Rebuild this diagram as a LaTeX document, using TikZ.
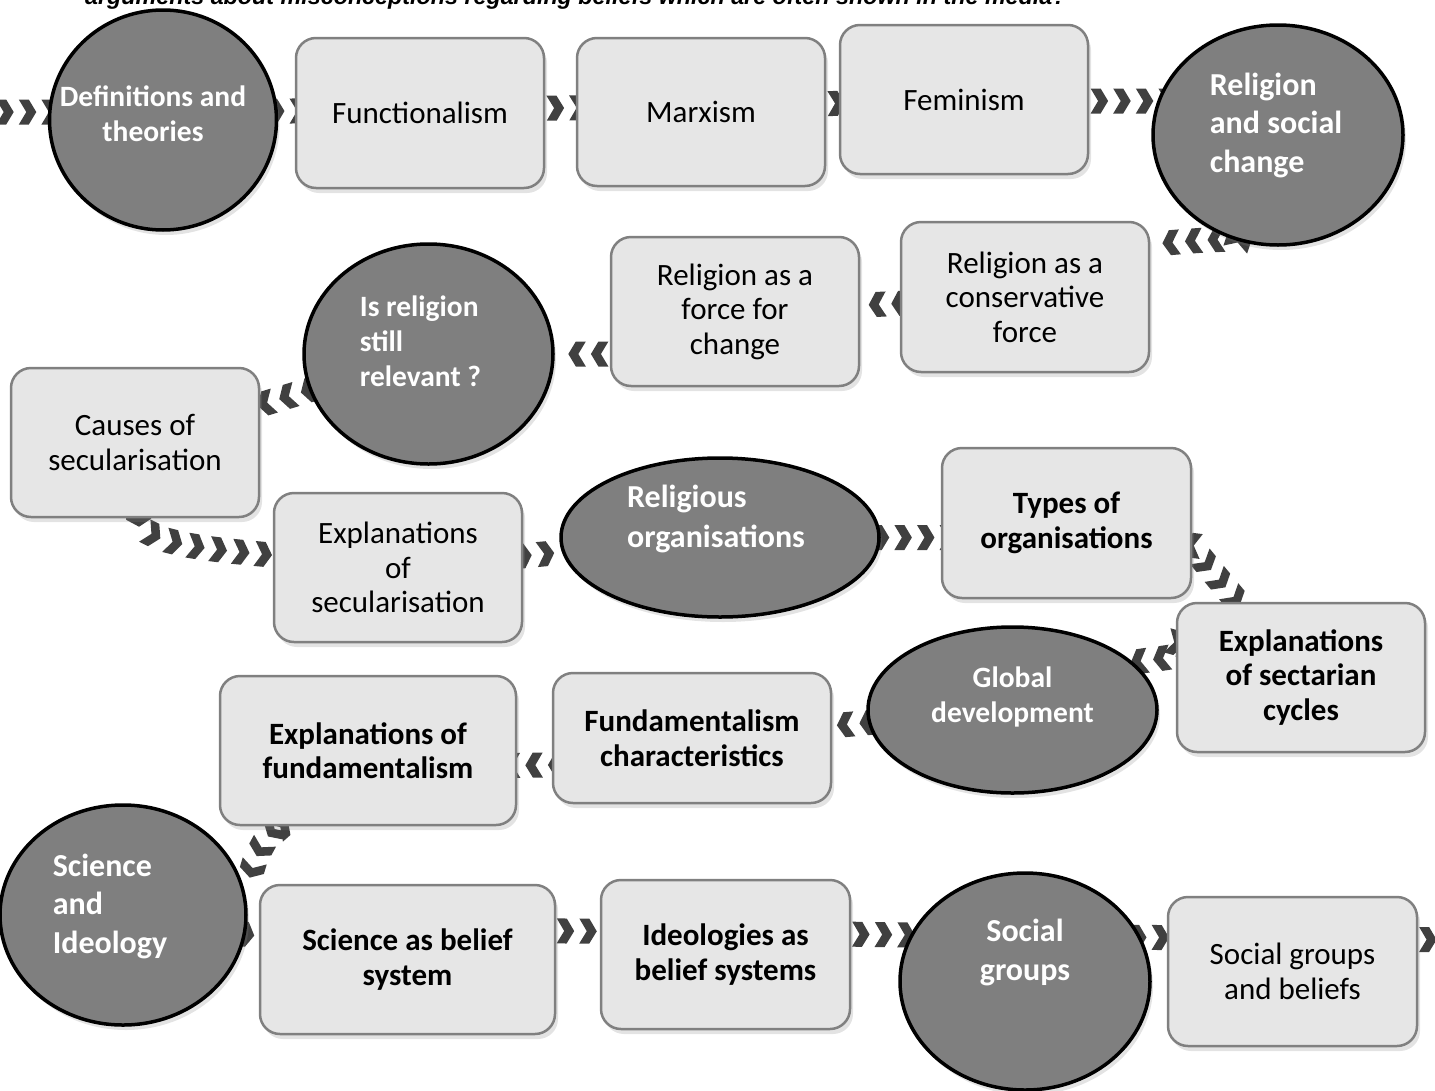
\documentclass[tikz,border=0pt]{standalone}
\usepackage{fontspec}
\setmainfont{Carlito}
\newfontfamily\arialfont{Liberation Sans}
\usetikzlibrary{shapes.geometric,shadows,decorations.markings,backgrounds}

\definecolor{boxfill}{HTML}{E6E6E6}
\definecolor{boxline}{HTML}{808080}
\definecolor{bubblefill}{HTML}{7F7F7F}
\definecolor{chevcol}{HTML}{404040}

\tikzset{
  topic/.style={rectangle,rounded corners=20pt,fill=boxfill,draw=boxline,line width=2.5pt,
    minimum width=248pt,minimum height=149pt,align=center,inner sep=0pt,
    font=\fontsize{31}{34.5}\selectfont,
    drop shadow={opacity=0.22,shadow xshift=3pt,shadow yshift=-5pt}},
  boldtopic/.style={topic,font=\bfseries\fontsize{31}{34.5}\selectfont},
  bubble/.style={ellipse,fill=bubblefill,draw=black,line width=3.5pt,inner sep=0pt,
    drop shadow={opacity=0.22,shadow xshift=3pt,shadow yshift=-5pt}},
  bubbletext/.style={text=white,inner sep=0pt,align=left,font=\bfseries\fontsize{32}{38.5}\selectfont},
  smallbubbletext/.style={bubbletext,font=\bfseries\fontsize{29.5}{35}\selectfont},
  chevrons/.style={decorate,decoration={markings,
    mark=between positions 0 and 0.98 step 22.6pt with {\fill[chevcol] (-9pt,12.5pt) -- (1pt,12.5pt) -- (8.5pt,0pt) -- (1pt,-12.5pt) -- (-9pt,-12.5pt) -- (-1.5pt,0pt) -- cycle;}}}
}

\begin{document}
\begin{tikzpicture}[x=1pt,y=-1pt]
  \useasboundingbox (0,0) rectangle (1435,1090);

  \node[anchor=base west,inner sep=0pt,font=\arialfont\bfseries\itshape\fontsize{23.3}{27}\selectfont] (intro) at (85,4)
    {arguments about misconceptions regarding beliefs which are often shown in the media?};

  % row 1
  \node[bubble,minimum width=227pt,minimum height=220pt,
    label={[smallbubbletext,align=center,shift={(-10,-6)}]center:{Definitions and\\theories}}] (def) at (163,120) {};
  \node[topic,minimum height=150pt] (func) at (420,113) {Functionalism};
  \node[topic,minimum height=148pt] (marx) at (701,112) {Marxism};
  \node[topic] (fem) at (964,99.5) {Feminism};
  \node[bubble,minimum width=250pt,minimum height=220pt,
    label={[bubbletext,shift={(-2,-10)}]center:{Religion\\and social\\change}}] (rel) at (1278,135) {};

  % row 2
  \node[topic,minimum height=150pt] (cons) at (1025,297) {Religion as a\\conservative\\force};
  \node[topic] (force) at (735,311.5) {Religion as a\\force for\\change};
  \node[bubble,minimum width=249pt,minimum height=220pt,
    label={[smallbubbletext,shift={(-8,-13)}]center:{Is religion\\still\\relevant ?}}] (relev) at (428.5,354) {};
  \node[topic] (causes) at (135,442.5) {Causes of\\secularisation};

  % row 3
  \node[topic] (explsec) at (398,567.5) {Explanations\\of\\secularisation};
  \node[bubble,minimum width=318pt,minimum height=159pt,
    label={[bubbletext,font=\bfseries\fontsize{32}{40}\selectfont,shift={(-4,-19)}]center:{Religious\\organisations}}] (relorg) at (720,537.5) {};
  \node[boldtopic,minimum width=249pt,minimum height=150pt] (types) at (1066.5,523) {Types of\\organisations};
  \node[boldtopic] (sect) at (1301,677.5) {Explanations\\of sectarian\\cycles};

  % row 4
  \node[bubble,minimum width=289pt,minimum height=166pt,
    label={[smallbubbletext,align=center,shift={(0,-13)}]center:{Global\\development}}] (global) at (1012.5,710) {};
  \node[boldtopic,minimum width=278pt,minimum height=130pt] (fundchar) at (692,738) {Fundamentalism\\characteristics};
  \node[boldtopic,minimum width=296pt] (expfund) at (368,750.5) {Explanations of\\fundamentalism};

  % row 5
  \node[bubble,minimum width=246pt,minimum height=220pt,
    label={[bubbletext,shift={(-13,-9)}]center:{Science\\and\\Ideology}}] (sci) at (123,915) {};
  \node[boldtopic,minimum width=295pt] (scibox) at (407.5,959.5) {Science as belief\\system};
  \node[boldtopic,minimum width=249pt] (ideol) at (725.5,954.5) {Ideologies as\\belief systems};
  \node[bubble,minimum width=250pt,minimum height=217pt,
    label={[bubbletext,align=center,shift={(0,-29)}]center:{Social\\groups}}] (social) at (1025,981.5) {};
  \node[topic,minimum width=249pt] (sgb) at (1292.5,971.5) {Social groups\\and beliefs};

  \coordinate (in) at (-40,112);
  \coordinate (out) at (1470,940);

  \begin{scope}[on background layer]
    \path[chevrons] (in) -- ([yshift=8pt]def.center);
    \path[chevrons] ([yshift=8pt]def.center) -- ([yshift=3pt]func.center);
    \path[chevrons] ([yshift=3pt]func.center) -- ([yshift=6pt]marx.center);
    \path[chevrons] ([yshift=6pt]marx.center) -- ([yshift=-1.5pt]fem.center);
    \path[chevrons] ([yshift=-1.5pt]fem.center) -- ([yshift=-1.5pt]fem.center -| rel);
    \path[chevrons] (rel) .. controls (1240,236) and (1152,244) .. (cons);
    \path[chevrons] (cons) -- (force);
    \path[chevrons] (force |- relev) -- (relev);
    \path[chevrons] (relev) -- (causes);
    \path[chevrons] (causes) .. controls (140,545) and (220,550) .. (explsec);
    \path[chevrons] (explsec) -- (relorg);
    \path[chevrons] (relorg) -- (relorg -| types);
    \path[chevrons] (types) .. controls (1190,545) and (1215,575) .. (sect);
    \path[chevrons] (sect) .. controls (1220,655) and (1140,660) .. (global);
    \path[chevrons] (global) -- (fundchar);
    \path[chevrons] ([yshift=-25pt]fundchar.center) -- ([yshift=-17pt]expfund.center);
    \path[chevrons] (expfund) .. controls (300,810) and (255,830) .. (248,890) -- (sci);
    \path[chevrons] (sci) -- (scibox);
    \path[chevrons] ([yshift=30pt]scibox.center) -- ([yshift=22pt]ideol.center);
    \path[chevrons] ([yshift=22pt]ideol.center) -- ([yshift=45pt]social.center);
    \path[chevrons] ([yshift=45pt]social.center) -- ([yshift=33pt]sgb.center);
    \path[chevrons] ([yshift=33pt]sgb.center) -- (out);
  \end{scope}
\end{tikzpicture}
\end{document}
